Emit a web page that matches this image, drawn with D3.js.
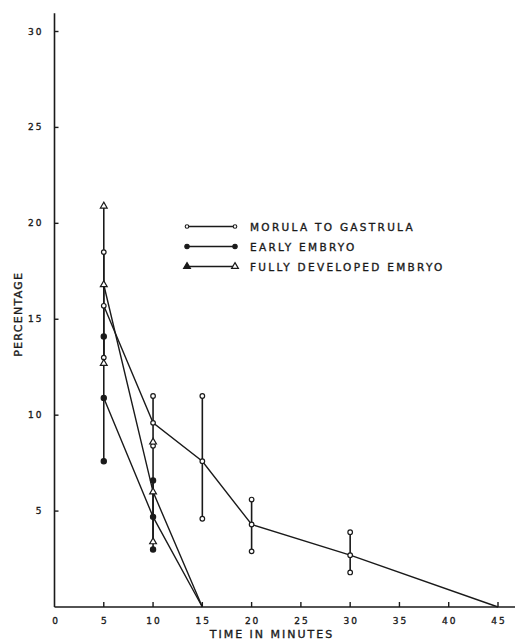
<!DOCTYPE html>
<html>
<head>
<meta charset="utf-8">
<script src="https://cdn.jsdelivr.net/npm/d3@7"></script>
<style>
  body { margin: 0; background: #fff; }
  text { font-family: "DejaVu Sans", sans-serif; fill: #1a1a1a; }
</style>
</head>
<body>
<div id="chart"></div>
<script>
// values
const morulaTime  = [5, 10, 15, 20, 30, 45];
const morulaMean  = [15.7, 9.6, 7.6, 4.3, 2.7, 0];
const morulaHigh  = [18.5, 11.0, 11.0, 5.6, 3.9, null];
const morulaLow   = [13.0, 8.4, 4.6, 2.9, 1.8, null];

const earlyTime = [5, 10, 15];
const earlyMean = [10.9, 4.7, 0];
const earlyHigh = [14.1, 6.6, null];
const earlyLow  = [7.6, 3.0, null];

const fullyTime = [5, 10, 15];
const fullyMean = [16.8, 6.0, 0];
const fullyHigh = [20.9, 8.6, null];
const fullyLow  = [12.7, 3.4, null];

const xTicks = [0, 5, 10, 15, 20, 25, 30, 35, 40, 45];
const yTicks = [5, 10, 15, 20, 25, 30];

const legendLabels = ["MORULA TO GASTRULA", "EARLY EMBRYO", "FULLY DEVELOPED EMBRYO"];

const ink = "#1a1a1a";
const width = 515, height = 642;

const svg = d3.select("#chart").append("svg")
  .attr("width", width)
  .attr("height", height);

const x = d3.scaleLinear().domain([0, 45]).range([54.5, 498]);
const y = d3.scaleLinear().domain([0, 30]).range([607, 31.5]);

const build = (t, m, hi, lo) => t.map((d, i) => ({ t: d, m: m[i], hi: hi[i], lo: lo[i] }));

const series = [
  { name: legendLabels[0], data: build(morulaTime, morulaMean, morulaHigh, morulaLow), marker: "openCircle" },
  { name: legendLabels[1], data: build(earlyTime, earlyMean, earlyHigh, earlyLow), marker: "dot" },
  { name: legendLabels[2], data: build(fullyTime, fullyMean, fullyHigh, fullyLow), marker: "triangle" }
];

// heavier lettering, like the stencil text of the original
const letter = (sel, size, spacing) => sel
  .style("font-size", size + "px")
  .style("letter-spacing", spacing + "px")
  .attr("stroke", ink)
  .attr("stroke-width", 0.35);

// axes
const x0 = x(0), y0 = y(0);
svg.append("line")
  .attr("x1", x0).attr("x2", width)
  .attr("y1", y0).attr("y2", y0)
  .attr("stroke", ink).attr("stroke-width", 1.6);
svg.append("line")
  .attr("x1", x0).attr("x2", x0)
  .attr("y1", y0).attr("y2", y(30.95))
  .attr("stroke", ink).attr("stroke-width", 1.6);

const xAxis = svg.append("g");
xAxis.selectAll("line")
  .data(xTicks.filter(d => d > 0))
  .enter().append("line")
  .attr("x1", d => x(d)).attr("x2", d => x(d))
  .attr("y1", y0).attr("y2", y0 - 5)
  .attr("stroke", ink).attr("stroke-width", 1.4);
xAxis.selectAll("text")
  .data(xTicks)
  .enter().append("text")
  .attr("x", d => x(d) + (d === 0 ? 1.5 : 1))
  .attr("y", y0 + 17)
  .attr("text-anchor", "middle")
  .call(letter, 9, 2)
  .text(d => d);

const yAxis = svg.append("g");
yAxis.selectAll("line")
  .data(yTicks)
  .enter().append("line")
  .attr("x1", x0).attr("x2", x0 + 4)
  .attr("y1", d => y(d)).attr("y2", d => y(d))
  .attr("stroke", ink).attr("stroke-width", 1.4);
yAxis.selectAll("text")
  .data(yTicks)
  .enter().append("text")
  .attr("x", x0 - 11)
  .attr("y", d => y(d) + 3)
  .attr("text-anchor", "end")
  .call(letter, 9, 2)
  .text(d => d);

svg.append("text")
  .attr("x", 272)
  .attr("y", 638)
  .attr("text-anchor", "middle")
  .call(letter, 11, 2)
  .text("TIME IN MINUTES");

svg.append("text")
  .attr("transform", `translate(22, ${y(15) - 5}) rotate(-90)`)
  .attr("text-anchor", "middle")
  .call(letter, 11, 1.3)
  .text("PERCENTAGE");

// markers
const drawMarker = (g, kind, cx, cy, fillOverride) => {
  if (kind === "triangle") {
    g.append("path")
      .attr("d", d3.symbol().type(d3.symbolTriangle).size(20)())
      .attr("transform", `translate(${cx},${cy})`)
      .attr("fill", fillOverride || "#fff")
      .attr("stroke", ink).attr("stroke-width", 1.2);
  } else {
    g.append("circle")
      .attr("cx", cx).attr("cy", cy)
      .attr("r", kind === "dot" ? 2.6 : 2.3)
      .attr("fill", kind === "dot" ? ink : "#fff")
      .attr("stroke", ink).attr("stroke-width", 1.2);
  }
};

const line = d3.line().x(d => x(d.t)).y(d => y(d.m));
const plot = svg.append("g");

series.forEach(s => {
  const bars = s.data.filter(d => d.hi != null);
  plot.selectAll(null)
    .data(bars)
    .enter().append("line")
    .attr("x1", d => x(d.t)).attr("x2", d => x(d.t))
    .attr("y1", d => y(d.hi)).attr("y2", d => y(d.lo))
    .attr("stroke", ink).attr("stroke-width", 1.6);
});

series.forEach(s => {
  plot.append("path")
    .datum(s.data)
    .attr("d", line)
    .attr("fill", "none")
    .attr("stroke", ink).attr("stroke-width", 1.4);
});

series.forEach(s => {
  const g = plot.append("g");
  s.data.filter(d => d.hi != null).forEach(d => {
    drawMarker(g, s.marker, x(d.t), y(d.hi));
    drawMarker(g, s.marker, x(d.t), y(d.m));
    drawMarker(g, s.marker, x(d.t), y(d.lo));
  });
});

// legend
const legend = svg.append("g").attr("transform", "translate(187, 226.5)");
series.forEach((s, i) => {
  const g = legend.append("g").attr("transform", `translate(0, ${i * 20})`);
  g.append("line")
    .attr("x1", 0).attr("x2", 48)
    .attr("stroke", ink).attr("stroke-width", 1.4);
  if (s.marker === "triangle") {
    drawMarker(g, s.marker, 0, 0, ink);
    drawMarker(g, s.marker, 48, 0);
  } else {
    g.append("circle").attr("cx", 0).attr("r", s.marker === "dot" ? 2.2 : 1.8)
      .attr("fill", s.marker === "dot" ? ink : "#fff").attr("stroke", ink).attr("stroke-width", 1.1);
    g.append("circle").attr("cx", 48).attr("r", s.marker === "dot" ? 2.2 : 1.8)
      .attr("fill", s.marker === "dot" ? ink : "#fff").attr("stroke", ink).attr("stroke-width", 1.1);
  }
  g.append("text")
    .attr("x", 63).attr("y", 4)
    .call(letter, 10.5, 2.3)
    .text(s.name);
});
</script>
</body>
</html>
